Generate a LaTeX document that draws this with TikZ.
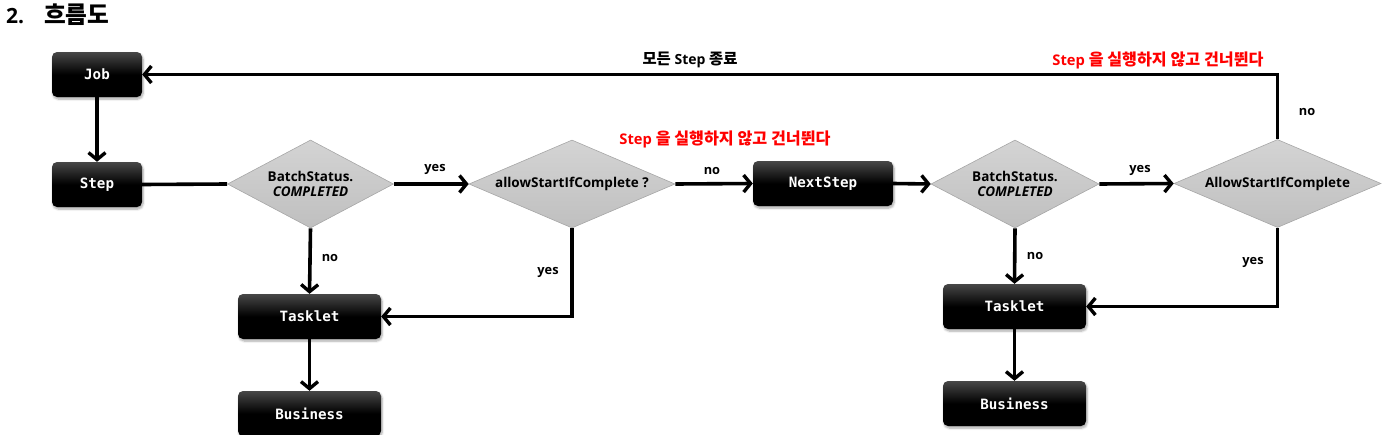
\documentclass[tikz,border=0pt]{standalone}
\usepackage{fontspec}
\setmainfont{Open Sans}
\newfontfamily\kr{Noto Sans CJK KR}[Scale=1.1]
\newfontfamily\mono{DejaVu Sans Mono}
\usetikzlibrary{arrows.meta,shapes.geometric,shadows.blur}
\definecolor{redlbl}{RGB}{255,0,0}
\begin{document}
\begin{tikzpicture}[x=1pt,y=-1pt,
  box/.style={rounded corners=5pt, minimum height=45pt, inner sep=0pt,
    top color=black!72, bottom color=black, middle color=black,
    text=white, font=\mono\bfseries\fontsize{14.2}{16}\selectfont,
    blur shadow={shadow blur steps=6, shadow xshift=1pt, shadow yshift=-2pt, shadow opacity=35}},
  dia/.style={diamond, inner sep=0pt, draw=black!35, line width=0.6pt,
    top color=black!17, bottom color=black!25},
  dtext/.style={font=\bfseries\fontsize{13.5}{15}\selectfont, align=center, inner sep=0pt},
  lbl/.style={font=\bfseries\fontsize{12.8}{14}\selectfont, inner sep=0pt},
  klbl/.style={font=\bfseries\fontsize{14}{16}\selectfont, inner sep=0pt},
  red/.style={font=\bfseries\fontsize{14.7}{16}\selectfont, text=redlbl, inner sep=0pt},
  conn/.style={line width=3.6pt},
  arr/.style={conn, -{Straight Barb[length=7pt,width=17pt,line width=3.4pt]}}
]
\useasboundingbox (0,0) rectangle (1387,434);

% title
\node[anchor=west, font=\bfseries\fontsize{21}{23}\selectfont, inner sep=0pt] (tnum) at (6,16) {2.};
\node[anchor=west, font=\kr\bfseries\fontsize{21.5}{23}\selectfont, inner sep=0pt] (ttl) at (44,15) {흐름도};

% boxes
\node[box, minimum width=90pt] (job) at (97,74.5) {Job};
\node[box, minimum width=90pt] (step) at (97,184.5) {Step};
\node[box, minimum width=140pt] (next) at (823,183.5) {NextStep};
\node[box, minimum width=143pt] (task1) at (309.5,316.5) {Tasklet};
\node[box, minimum width=143pt] (bus1) at (309.5,413.5) {Business};
\node[box, minimum width=143pt] (task2) at (1014.5,306.5) {Tasklet};
\node[box, minimum width=143pt] (bus2) at (1014.5,403.5) {Business};

% diamonds
\node[dia, minimum width=166pt, minimum height=88pt] (d1) at (310.5,184) {};
\node[dtext] (d1t) at (d1) {BatchStatus.\\\textit{COMPLETED}};
\node[dia, minimum width=206pt, minimum height=88pt] (d2) at (572,184) {};
\node[dtext] (d2t) at (d2) {allowStartIfComplete ?};
\node[dia, minimum width=168pt, minimum height=88pt] (d3) at (1015,184) {};
\node[dtext] (d3t) at (d3) {BatchStatus.\\\textit{COMPLETED}};
\node[dia, minimum width=207pt, minimum height=88pt] (d4) at (1277.5,183.5) {};
\node[dtext] (d4t) at (d4) {AllowStartIfComplete};

% connectors
\draw[arr] (d4.north) |- (job.east);
\draw[arr] (job.south) -- (step.north);
\draw[conn] (step.east) -- (d1.west);
\draw[arr] (d1.east) -- (d2.west);
\draw[arr] (d2.east) -- (next.west);
\draw[arr] (next.east) -- (d3.west);
\draw[arr] (d3.east) -- (d4.west);
\draw[arr] (d1.south) -- (task1.north);
\draw[arr] (d2.south) |- (task1.east);
\draw[arr] (task1.south) -- (bus1.north);
\draw[arr] (d3.south) -- (task2.north);
\draw[arr] (d4.south) |- (task2.east);
\draw[arr] (task2.south) -- (bus2.north);

% labels
\node[klbl] (l1) at (690,60) {{\kr 모든} Step {\kr 종료}};
\node[red] (r1) at (1158,60) {Step {\kr 을 실행하지 않고 건너뛴다}};
\node[red] (r2) at (725,139) {Step {\kr 을 실행하지 않고 건너뛴다}};
\node[lbl] (n4) at (1307,112) {no};
\node[lbl] (y1) at (435,169) {yes};
\node[lbl] (n2) at (712,171) {no};
\node[lbl] (y3) at (1140,170) {yes};
\node[lbl] (n1) at (330,258) {no};
\node[lbl] (y2) at (548,272) {yes};
\node[lbl] (n3) at (1035,256) {no};
\node[lbl] (y4) at (1253,262) {yes};
\end{tikzpicture}
\end{document}
